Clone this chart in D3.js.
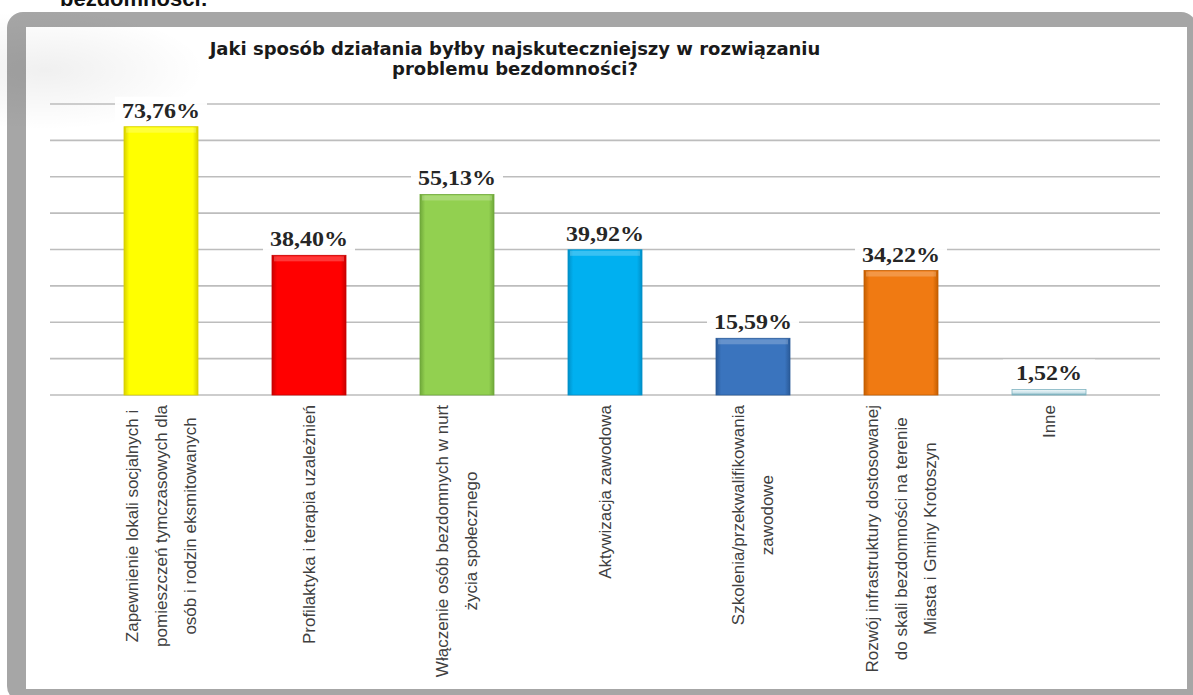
<!DOCTYPE html>
<html>
<head>
<meta charset="utf-8">
<script src="https://cdn.jsdelivr.net/npm/d3@7"></script>
<style>
  html, body { margin: 0; padding: 0; background: #fff; }
  svg { display: block; }
</style>
</head>
<body>
<div id="chart"></div>
<script>
// Chart data
const categories = [
    ["Zapewnienie lokali socjalnych i", "pomieszczeń tymczasowych dla", "osób i rodzin eksmitowanych"],
    ["Profilaktyka i terapia uzależnień"],
    ["Włączenie osób bezdomnych w nurt", "życia społecznego"],
    ["Aktywizacja zawodowa"],
    ["Szkolenia/przekwalifikowania", "zawodowe"],
    ["Rozwój infrastruktury dostosowanej", "do skali bezdomności na terenie", "Miasta i Gminy Krotoszyn"],
    ["Inne"]
];
const values = [73.76, 38.40, 55.13, 39.92, 15.59, 34.22, 1.52];
const gridTicks = [0, 10, 20, 30, 40, 50, 60, 70, 80];
const barColors = ["#FFFF00", "#FF0000", "#92D050", "#00B0F0", "#3A74BE", "#F07A12", "#E4F0F3"];
const barEdges = ["#D8D000", "#C80000", "#6FA83A", "#0090C8", "#2A5A98", "#C45E00", "#7DB3C0"];
const titleLines = ["Jaki sposób działania byłby najskuteczniejszy w rozwiązaniu", "problemu bezdomności?"];

const width = 1193;
const height = 695;

const svg = d3.select("#chart")
    .append("svg")
    .attr("width", width)
    .attr("height", height);

const defs = svg.append("defs");

// faint glow in the top-left corner of the plot
const glow = defs.append("radialGradient")
    .attr("id", "glow");
glow.append("stop").attr("offset", "0%").attr("stop-color", "#000").attr("stop-opacity", 0.06);
glow.append("stop").attr("offset", "100%").attr("stop-color", "#000").attr("stop-opacity", 0);

// bevel gradients for bars
barColors.forEach((c, i) => {
    const g = defs.append("linearGradient")
        .attr("id", "bar" + i)
        .attr("x1", 0).attr("x2", 1).attr("y1", 0).attr("y2", 0);
    g.append("stop").attr("offset", "0%").attr("stop-color", barEdges[i]);
    g.append("stop").attr("offset", "7%").attr("stop-color", c);
    g.append("stop").attr("offset", "93%").attr("stop-color", c);
    g.append("stop").attr("offset", "100%").attr("stop-color", barEdges[i]);
});
const inneFill = defs.append("linearGradient")
    .attr("id", "inneFill")
    .attr("x1", 0).attr("x2", 0).attr("y1", 0).attr("y2", 1);
inneFill.append("stop").attr("offset", "0%").attr("stop-color", "#F2F8FA");
inneFill.append("stop").attr("offset", "60%").attr("stop-color", "#C9E2E9");
inneFill.append("stop").attr("offset", "100%").attr("stop-color", "#6FA7B5");

// page background and cut-off heading above the frame
svg.append("rect")
    .attr("width", width).attr("height", height)
    .attr("fill", "#fff");

svg.append("text")
    .attr("x", 60)
    .attr("y", 6)
    .attr("font-family", "Liberation Sans, Arial, sans-serif")
    .attr("font-weight", "bold")
    .attr("font-size", 22)
    .attr("fill", "#111")
    .text("bezdomności:");

// frame
svg.append("rect")
    .attr("x", 7).attr("y", 12)
    .attr("width", 1190).attr("height", 690)
    .attr("rx", 16)
    .attr("fill", "#A6A6A6");

svg.append("rect")
    .attr("x", 26).attr("y", 27)
    .attr("width", 1161).attr("height", 662)
    .attr("fill", "#fff");

svg.append("ellipse")
    .attr("cx", 45).attr("cy", 70)
    .attr("rx", 160).attr("ry", 60)
    .attr("fill", "url(#glow)");

// scales
const x = d3.scaleBand()
    .domain(d3.range(values.length))
    .range([50, 1160])
    .padding(0.5);

const y = d3.scaleLinear()
    .domain([0, 80])
    .range([395, 104]);

// gridlines
svg.append("g")
    .selectAll("line")
    .data(gridTicks)
    .join("line")
    .attr("x1", 50)
    .attr("x2", 1160)
    .attr("y1", d => y(d))
    .attr("y2", d => y(d))
    .attr("stroke", "#BDBDBD")
    .attr("stroke-width", 1.6);

// bars
svg.append("g")
    .selectAll("rect")
    .data(values)
    .join("rect")
    .attr("x", (d, i) => x(i))
    .attr("y", d => y(d))
    .attr("width", x.bandwidth())
    .attr("height", d => y(0) - y(d))
    .attr("fill", (d, i) => i === values.length - 1 ? "url(#inneFill)" : `url(#bar${i})`)
    .attr("stroke", (d, i) => barEdges[i])
    .attr("stroke-width", 0.8);

// top bevel highlight
svg.append("g")
    .selectAll("rect")
    .data(values.slice(0, -1))
    .join("rect")
    .attr("x", (d, i) => x(i) + 2)
    .attr("y", d => y(d) + 1)
    .attr("width", x.bandwidth() - 4)
    .attr("height", 5)
    .attr("fill", "#fff")
    .attr("opacity", 0.22);

// value labels
const fmt = v => d3.format(".2f")(v).replace(".", ",") + "%";
const labels = svg.append("g")
    .selectAll("g")
    .data(values)
    .join("g")
    .attr("transform", (d, i) => `translate(${x(i) + x.bandwidth() / 2}, ${y(d) - 16})`);

labels.append("rect")
    .attr("x", -46)
    .attr("y", -14)
    .attr("width", 92)
    .attr("height", 27)
    .attr("fill", "#fff")
    .attr("opacity", 0.95);

labels.append("text")
    .attr("transform", "scale(1.2,1)")
    .attr("text-anchor", "middle")
    .attr("dy", "0.35em")
    .attr("font-family", "Liberation Serif, Times New Roman, serif")
    .attr("font-weight", "bold")
    .attr("font-size", 20)
    .attr("fill", "#262626")
    .text(d => fmt(d));

// category labels (rotated, lines centred inside the block)
const lineGap = 29;
categories.forEach((lines, i) => {
    const cx = x(i) + x.bandwidth() / 2;
    const g = svg.append("g")
        .attr("transform", `translate(${cx}, 405) rotate(-90)`);
    const texts = g.selectAll("text")
        .data(lines)
        .join("text")
        .attr("y", (d, j) => (j - (lines.length - 1) / 2) * lineGap)
        .attr("dy", "0.35em")
        .attr("text-anchor", "middle")
        .attr("font-family", "Liberation Sans, Arial, sans-serif")
        .attr("font-size", 17)
        .attr("fill", "#404040")
        .text(d => d);
    let maxLen = 0;
    texts.each(function () { maxLen = Math.max(maxLen, this.getComputedTextLength()); });
    texts.attr("x", -maxLen / 2);
});

// title
svg.append("g")
    .selectAll("text")
    .data(titleLines)
    .join("text")
    .attr("x", 515)
    .attr("y", (d, i) => 55 + i * 20)
    .attr("text-anchor", "middle")
    .attr("font-family", "DejaVu Sans, sans-serif")
    .attr("font-weight", "bold")
    .attr("font-size", 18)
    .attr("fill", "#1a1a1a")
    .text(d => d);
</script>
</body>
</html>
